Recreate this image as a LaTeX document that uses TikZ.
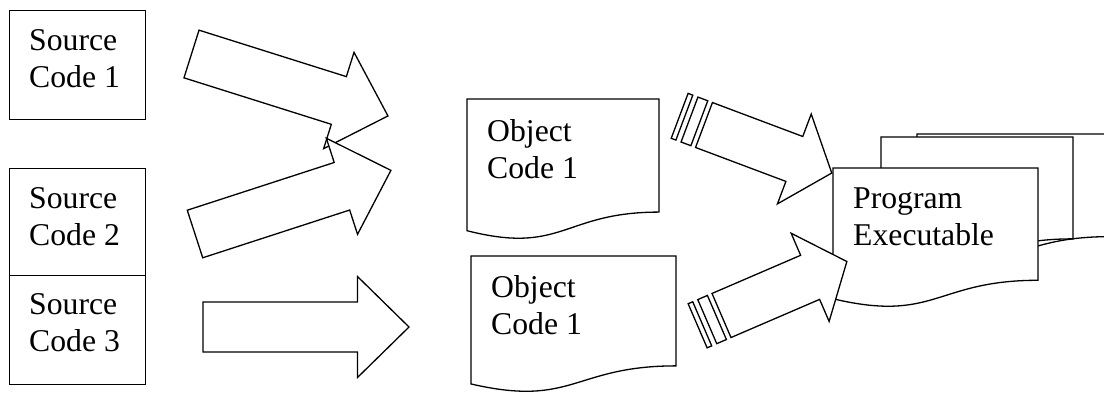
\documentclass[tikz,border=0pt]{standalone}
\usepackage{fontspec}
\setmainfont{Liberation Serif}
\tikzset{
  shapeline/.style={draw=black, line width=1.3pt, fill=white, line join=miter},
  srcbox/.style={shapeline, minimum width=136pt, minimum height=109pt, anchor=north west, inner sep=0pt},
  lbl/.style={anchor=base west, inner sep=0pt, font=\fontsize{31.7pt}{37pt}\selectfont},
  bigarrow/.pic={\path[shapeline] (0,-25) -- (154.5,-25) -- (154.5,-50.5) -- (206,0) -- (154.5,50.5) -- (154.5,25) -- (0,25) -- cycle;},
  stripearrow/.pic={\path[shapeline] (0,-24) -- (96.5,-24) -- (96.5,-48) -- (136.5,0) -- (96.5,48) -- (96.5,24) -- (0,24) -- cycle;
    \path[shapeline] (-15.5,-24) rectangle (-5,24);
    \path[shapeline] (-26,-24) rectangle (-21,24);}
}
\newcommand\twolines[2]{\vtop{\baselineskip=37pt\hbox{#1}\hbox{#2}}}
\newcommand\docpath[4]{%
  \path[shapeline] (#1,#2) -- ({#1+#3},#2) -- ({#1+#3},{#2+0.802*#4})
    .. controls ({#1+0.5*#3},{#2+0.802*#4}) and ({#1+0.5*#3},{#2+1.1075*#4}) .. (#1,{#2+0.934*#4}) -- cycle;}
\begin{document}
\begin{tikzpicture}[x=1pt, y=-1pt]
\useasboundingbox (0,0) rectangle (1104,394);
\clip (0,0) rectangle (1104,394);
% source boxes
\node[srcbox] (src1) at (9,10) {};
\node[srcbox] (src2) at (9,168) {};
\node[srcbox] (src3) at (9,275) {};
\node[lbl] (src1t) at (29,50) {\twolines{Source}{Code 1}};
\node[lbl] (src2t) at (29,208) {\twolines{Source}{Code 2}};
\node[lbl] (src3t) at (29,314) {\twolines{Source}{Code 3}};
% big block arrows
\pic[rotate=-17.5] at (191.5,54) {bigarrow};
\pic[rotate=18] at (195,234) {bigarrow};
\pic at (203,327) {bigarrow};
% object code documents
\docpath{467}{99}{192}{141}
\node[lbl] (obj1t) at (487,141) {\twolines{Object}{Code 1}};
\docpath{471}{256}{205}{137}
\node[lbl] (obj2t) at (491,297) {\twolines{Object}{Code 1}};
% program executable (stacked documents)
\docpath{917}{134}{192}{128}
\docpath{881}{137}{192}{127}
\docpath{833}{168}{205}{140}
\node[lbl] (prog) at (853,208) {\twolines{Program}{Executable}};
% striped arrows
\pic[rotate=-20.6] at (704,125) {stripearrow};
\pic[rotate=23.3] at (721.5,315.5) {stripearrow};
\end{tikzpicture}
\end{document}
